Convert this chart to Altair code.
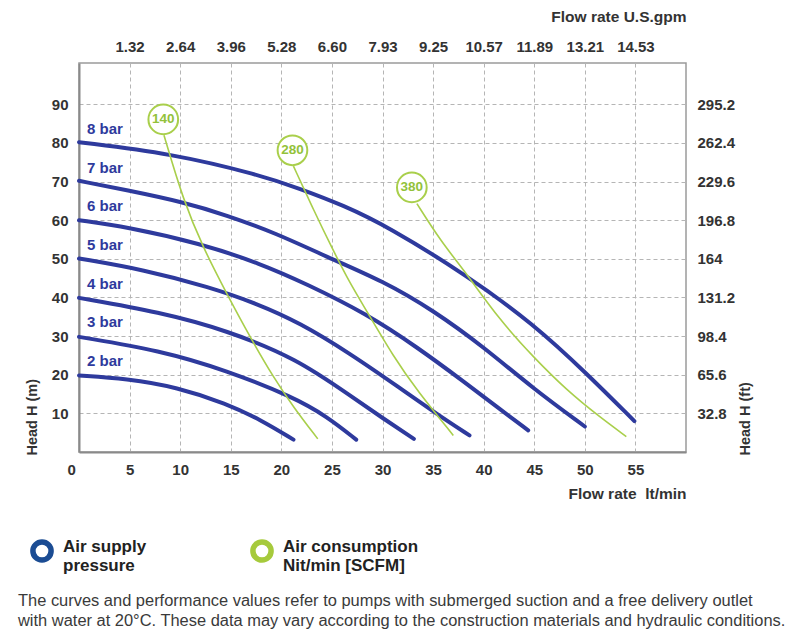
import json
import altair as alt
import pandas as pd

BLUE = "#2e3a9d"
GREEN = "#a9cf4b"
GREEN_TXT = "#93c23a"
RING_BLUE = "#1b4c93"
RING_GREEN = "#a6ca3c"
TXT = "#333333"
FONT = "Liberation Sans"

# ---- Air supply pressure curves: flow (lt/min) vs head (m) ----
pressure_names = ["2 bar", "3 bar", "4 bar", "5 bar", "6 bar", "7 bar", "8 bar"]
p2_x = [0, 4.7, 9.7, 14.6, 17.9, 21.2]
p2_y = [19.8, 19.0, 16.8, 12.5, 8.4, 3.2]
p3_x = [0, 8.0, 14.6, 21.2, 24.5, 27.4]
p3_y = [29.8, 26.3, 21.1, 14.2, 9.2, 3.2]
p4_x = [0, 8.0, 14.6, 21.5, 26.8, 30.0, 33.1]
p4_y = [39.9, 36.2, 31.5, 24.2, 14.6, 8.8, 3.4]
p5_x = [0, 6.4, 12.9, 17.5, 21.8, 26.8, 31.7, 35.5, 38.6]
p5_y = [50.1, 47.2, 42.7, 38.5, 33.5, 25.5, 16.6, 9.6, 4.3]
p6_x = [0, 4.7, 12.0, 17.9, 22.5, 28.4, 33.4, 38.3, 41.5, 44.4]
p6_y = [60.0, 58.3, 54.0, 48.8, 43.5, 35.8, 27.2, 17.7, 11.3, 5.6]
p7_x = [0, 4.7, 10.3, 14.6, 19.5, 24.5, 30.1, 35.0, 40.0, 44.9, 50.0]
p7_y = [70.2, 67.8, 64.7, 61.3, 56.6, 50.5, 44.2, 36.7, 27.2, 16.4, 6.6]
p8_x = [0, 9.1, 17.9, 21.8, 26.1, 30.5, 38.3, 44.9, 50.2, 54.9]
p8_y = [80.2, 77.3, 71.7, 68.2, 63.9, 58.4, 45.8, 33.2, 20.3, 8.0]
pressure_x = [p2_x, p3_x, p4_x, p5_x, p6_x, p7_x, p8_x]
pressure_y = [p2_y, p3_y, p4_y, p5_y, p6_y, p7_y, p8_y]
pressure_start = [20, 30, 40, 50, 60, 70, 80]

# ---- Air consumption curves (Nl/min) ----
cons_names = ["140", "280", "380"]
c140_x = [8.4, 10.3, 12.3, 14.6, 16.9, 19.2, 21.2, 23.6]
c140_y = [82.0, 65.2, 52.7, 41.0, 29.8, 19.4, 11.6, 3.4]
c280_x = [21.2, 23.2, 25.1, 26.8, 28.4, 31.1, 33.4, 37.0]
c280_y = [74.0, 62.6, 52.3, 43.6, 36.7, 24.6, 16.0, 4.3]
c380_x = [33.4, 35.7, 38.3, 41.6, 44.9, 48.2, 51.5, 54.1]
c380_y = [64.3, 54.8, 46.2, 34.1, 24.6, 16.0, 9.0, 4.0]
cons_x = [c140_x, c280_x, c380_x]
cons_y = [c140_y, c280_y, c380_y]
badge_x = [8.33, 21.1, 32.9]
badge_y = [86.1, 78.1, 68.5]

# ---- axes ----
lt_ticks = [0, 5, 10, 15, 20, 25, 30, 35, 40, 45, 50, 55]
gpm_ticks = [5, 10, 15, 20, 25, 30, 35, 40, 45, 50, 55]
gpm_labels = ["1.32", "2.64", "3.96", "5.28", "6.60", "7.93", "9.25", "10.57", "11.89", "13.21", "14.53"]
m_ticks = [10, 20, 30, 40, 50, 60, 70, 80, 90]
ft_labels = ["32.8", "65.6", "98.4", "131.2", "164", "196.8", "229.6", "262.4", "295.2"]

legend_texts = ["Air supply\npressure", "Air consumption\nNit/min [SCFM]"]
caption = ("The curves and performance values refer to pumps with submerged suction and a free delivery outlet\n"
           "with water at 20\u00b0C. These data may vary according to the construction materials and hydraulic conditions.")

rows = []
for name, xs_, ys_ in zip(pressure_names, pressure_x, pressure_y):
    for i, (a, b) in enumerate(zip(xs_, ys_)):
        rows.append({"series": name, "order": i, "flow": a, "head": b})
pdf = pd.DataFrame(rows)

rows = []
for name, xs_, ys_ in zip(cons_names, cons_x, cons_y):
    for i, (a, b) in enumerate(zip(xs_, ys_)):
        rows.append({"series": name, "order": i, "flow": a, "head": b})
cdf = pd.DataFrame(rows)

badges = pd.DataFrame({"label": cons_names, "flow": badge_x, "head": badge_y})
plabels = pd.DataFrame({"label": pressure_names, "flow": [0.8] * 7,
                        "head": [v + 3.6 for v in pressure_start]})

xs = alt.Scale(domain=[0, 60], nice=False, zero=False)
ys = alt.Scale(domain=[0, 100.7], nice=False, zero=False)

label_style = dict(labelFont=FONT, labelFontSize=15, labelFontWeight="bold", labelColor=TXT,
                   titleFont=FONT, titleFontWeight="bold", titleColor=TXT,
                   ticks=False, tickSize=0)

bottom_axis = alt.Axis(orient="bottom", values=lt_ticks, title="Flow rate\u00a0\u00a0lt/min",
                       labelOffset={"condition": {"test": "datum.value == 0", "value": -12}, "value": 0},
                       labelPadding=10, grid=True, gridDash=[4, 3], gridColor="#b5b5b5", gridWidth=1,
                       domainColor="#8a8a8a", domainWidth=2, titleFontSize=15.5,
                       titleX=607, titleY=41, titleAlign="right", titleBaseline="middle", titleAngle=0,
                       **label_style)
left_axis = alt.Axis(orient="left", values=m_ticks, title="Head H (m)", labelPadding=11,
                     grid=True, gridDash=[4, 3], gridColor="#b5b5b5", gridWidth=1,
                     domainColor="#8a8a8a", domainWidth=2, titleFontSize=14.5,
                     titleX=-47, titleY=392, titleAngle=270, titleAlign="left", titleBaseline="middle",
                     **label_style)
top_axis = alt.Axis(orient="top", values=gpm_ticks, title="Flow rate U.S.gpm",
                    labelExpr=json.dumps(gpm_labels) + "[datum.value / 5 - 1]",
                    labelPadding=9, grid=False, domain=False, titleFontSize=15.5,
                    titleX=607, titleY=-47, titleAlign="right", titleBaseline="middle", titleAngle=0,
                    **label_style)
right_axis = alt.Axis(orient="right", values=m_ticks, title="Head H (ft)",
                      labelExpr=json.dumps(ft_labels) + "[datum.value / 10 - 1]",
                      labelPadding=11, grid=False, domain=False, titleFontSize=14.5,
                      titleX=59, titleY=392, titleAngle=270, titleAlign="left", titleBaseline="middle",
                      **label_style)

blue = alt.Chart(pdf).mark_line(color=BLUE, strokeWidth=4, interpolate="basis", strokeCap="round").encode(
    x=alt.X("flow:Q", scale=xs, axis=bottom_axis),
    y=alt.Y("head:Q", scale=ys, axis=left_axis),
    detail="series:N", order="order:Q")

green = alt.Chart(cdf).mark_line(color=GREEN, strokeWidth=1.6, interpolate="basis").encode(
    x=alt.X("flow:Q", scale=xs, axis=top_axis),
    y=alt.Y("head:Q", scale=ys, axis=right_axis),
    detail="series:N", order="order:Q")

circles = alt.Chart(badges).mark_point(shape="circle", filled=False, fill="white", fillOpacity=1,
                                       stroke=GREEN, strokeWidth=2, size=880, opacity=1).encode(
    x=alt.X("flow:Q", scale=xs, axis=None), y=alt.Y("head:Q", scale=ys, axis=None))
ctext = alt.Chart(badges).mark_text(font=FONT, fontSize=13.5, fontWeight="bold", color=GREEN_TXT).encode(
    x=alt.X("flow:Q", scale=xs, axis=None), y=alt.Y("head:Q", scale=ys, axis=None), text="label:N")

ptext = alt.Chart(plabels).mark_text(font=FONT, fontSize=15, fontWeight="bold", color=BLUE, align="left").encode(
    x=alt.X("flow:Q", scale=xs, axis=None), y=alt.Y("head:Q", scale=ys, axis=None), text="label:N")

leg_df = pd.DataFrame({"t": legend_texts})
ring1 = alt.Chart(leg_df.iloc[[0]]).mark_point(shape="circle", filled=False, color=RING_BLUE, strokeWidth=5.5,
                                               size=330, opacity=1).encode(x=alt.value(-37), y=alt.value(488))
ring2 = alt.Chart(leg_df.iloc[[1]]).mark_point(shape="circle", filled=False, color=RING_GREEN, strokeWidth=5.5,
                                               size=330, opacity=1).encode(x=alt.value(183), y=alt.value(488))
lt1 = alt.Chart(leg_df.iloc[[0]]).mark_text(font=FONT, fontSize=17, fontWeight="bold", color="#222",
                                            align="left", baseline="top", lineBreak="\n", lineHeight=19).encode(
    x=alt.value(-16), y=alt.value(476), text="t:N")
lt2 = alt.Chart(leg_df.iloc[[1]]).mark_text(font=FONT, fontSize=17, fontWeight="bold", color="#222",
                                            align="left", baseline="top", lineBreak="\n", lineHeight=19).encode(
    x=alt.value(204), y=alt.value(476), text="t:N")
cap = alt.Chart(pd.DataFrame({"t": [caption]})).mark_text(font=FONT, fontSize=16.45, color="#3a3a3a", align="left",
                                                          baseline="top", lineBreak="\n", lineHeight=20).encode(
    x=alt.value(-61), y=alt.value(530), text="t:N")

chart = alt.layer(blue, green, circles, ctext, ptext, ring1, ring2, lt1, lt2, cap).resolve_axis(
    x="independent", y="independent").properties(
    width=607, height=389,
    padding={"left": 71, "top": 55, "right": 106, "bottom": 179},
    autosize=alt.AutoSizeParams(type="none"),
    background="white").configure_view(stroke="#9a9a9a", strokeWidth=1.5)

chart.save("out.html", embed_options={"renderer": "svg", "actions": False})
